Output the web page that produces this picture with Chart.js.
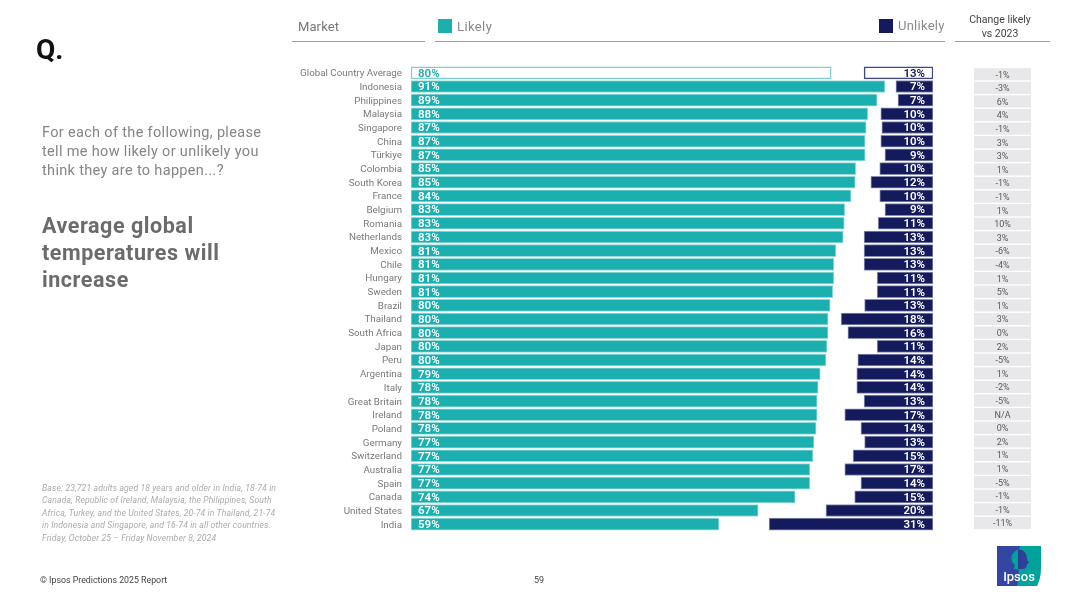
<!DOCTYPE html>
<html>
<head>
<meta charset="utf-8">
<title>Average global temperatures will increase</title>
<script src="https://cdn.jsdelivr.net/npm/chart.js@4"></script>
<style>
    html, body { margin: 0; padding: 0; background: #fff; }
    body { width: 1080px; height: 607px; position: relative; overflow: hidden; font-family: Roboto, sans-serif; }
    #barChart { position: absolute; left: 0; top: 0; }
    .txt { position: absolute; white-space: nowrap; }
    .line { position: absolute; height: 1px; background: #8ea3a7; top: 41px; }
    .swatch { position: absolute; width: 14px; height: 14px; top: 19px; }
</style>
</head>
<body>
<canvas id="barChart" width="1080" height="607"></canvas>

<div class="txt" style="left:36px;top:33px;font-size:28px;font-weight:700;color:#111;">Q.</div>
<div class="txt" style="left:42px;top:123px;font-size:14.5px;line-height:19px;letter-spacing:.33px;color:#858585;">For each of the following, please<br>tell me how likely or unlikely you<br>think they are to happen...?</div>
<div class="txt" style="left:42px;top:212px;font-size:21.5px;line-height:27px;letter-spacing:.55px;font-weight:700;color:#6b6b6b;">Average global<br>temperatures will<br>increase</div>
<div class="txt" style="left:42px;top:482px;font-size:8.6px;line-height:12.4px;letter-spacing:.13px;font-style:italic;color:#ababab;">Base: 23,721 adults aged 18 years and older in India, 18-74 in<br>Canada, Republic of Ireland, Malaysia, the Philippines, South<br>Africa, Turkey, and the United States, 20-74 in Thailand, 21-74<br>in Indonesia and Singapore, and 16-74 in all other countries.<br>Friday, October 25 – Friday November  8, 2024</div>
<div class="txt" style="left:40px;top:575px;font-size:8.8px;color:#444;">© Ipsos Predictions 2025 Report</div>
<div class="txt" style="left:534px;top:575px;font-size:9px;color:#444;">59</div>

<div class="txt" style="left:298px;top:19px;font-size:13px;letter-spacing:.1px;color:#777;">Market</div>
<div class="line" style="left:292px;width:133px;"></div>
<div class="swatch" style="left:438px;background:#1cafaf;"></div>
<div class="txt" style="left:457px;top:19px;font-size:13px;letter-spacing:.4px;color:#8a8a8a;">Likely</div>
<div class="line" style="left:435px;width:510px;"></div>
<div class="swatch" style="left:879px;background:#141b5c;"></div>
<div class="txt" style="left:898px;top:18px;font-size:13px;letter-spacing:.25px;color:#8a8a8a;">Unlikely</div>
<div class="txt" style="left:955px;width:90px;top:13px;font-size:10.5px;line-height:13.5px;text-align:center;color:#444;">Change likely<br>vs 2023</div>
<div class="line" style="left:955px;width:95px;"></div>

<svg style="position:absolute;left:997px;top:546px;" width="44" height="40" viewBox="0 0 44 40">
    <defs><clipPath id="leftHalf"><rect x="0" y="0" width="21" height="40"/></clipPath></defs>
    <path d="M0 0H44V22Q44 32 40 40H0Z" fill="#00a39b"/>
    <path d="M0 0H23Q19 10 21 20Q23 32 20 40H0Z" fill="#3446a4"/>
    <path d="M15 9Q19 2 25 4Q30 7 30 13L32 17L30 18Q30 23 26 23H17Q18 20 17 18Q13 15 15 9Z" fill="#2f3f99"/>
    <path clip-path="url(#leftHalf)" d="M15 9Q19 2 25 4Q30 7 30 13L32 17L30 18Q30 23 26 23H17Q18 20 17 18Q13 15 15 9Z" fill="#00a39b"/>
    <text x="22" y="35" text-anchor="middle" font-family="Roboto, sans-serif" font-size="13" font-weight="500" fill="#fff">Ipsos</text>
</svg>

<script>
'use strict';
const markets = ['Global Country Average', 'Indonesia', 'Philippines', 'Malaysia', 'Singapore', 'China', 'Türkiye', 'Colombia', 'South Korea', 'France', 'Belgium', 'Romania', 'Netherlands', 'Mexico', 'Chile', 'Hungary', 'Sweden', 'Brazil', 'Thailand', 'South Africa', 'Japan', 'Peru', 'Argentina', 'Italy', 'Great Britain', 'Ireland', 'Poland', 'Germany', 'Switzerland', 'Australia', 'Spain', 'Canada', 'United States', 'India'];
// bar lengths, printed labels are the rounded ones below
const likely = [80.5, 90.8, 89.3, 87.5, 87.2, 87.0, 87.0, 85.2, 85.1, 84.3, 83.1, 83.0, 82.8, 81.4, 81.0, 81.0, 80.8, 80.3, 79.9, 79.9, 79.7, 79.5, 78.4, 78.0, 77.8, 77.8, 77.6, 77.2, 77.0, 76.4, 76.4, 73.6, 66.5, 59.0];
const unlikely = [13.2, 7.1, 6.7, 10.0, 9.8, 10.0, 9.2, 10.2, 11.9, 10.2, 9.2, 10.5, 13.2, 13.2, 13.2, 10.7, 10.7, 13.1, 17.6, 16.3, 10.7, 14.4, 14.6, 14.6, 13.2, 16.9, 13.8, 13.1, 15.3, 16.9, 13.8, 15.0, 20.5, 31.4];
const likelyLabels = [80, 91, 89, 88, 87, 87, 87, 85, 85, 84, 83, 83, 83, 81, 81, 81, 81, 80, 80, 80, 80, 80, 79, 78, 78, 78, 78, 77, 77, 77, 77, 74, 67, 59];
const unlikelyLabels = [13, 7, 7, 10, 10, 10, 9, 10, 12, 10, 9, 11, 13, 13, 13, 11, 11, 13, 18, 16, 11, 14, 14, 14, 13, 17, 14, 13, 15, 17, 14, 15, 20, 31];
const changeLabels = ['-1%', '-3%', '6%', '4%', '-1%', '3%', '3%', '1%', '-1%', '-1%', '1%', '10%', '3%', '-6%', '-4%', '1%', '5%', '1%', '3%', '0%', '2%', '-5%', '1%', '-2%', '-5%', 'N/A', '0%', '2%', '1%', '1%', '-5%', '-1%', '-1%', '-11%'];

const teal = '#1cafaf';
const navy = '#141b5c';

// the global row is outlined, all the others are filled
function fillFor(color) {
    return markets.map((m, i) => i === 0 ? '#ffffff' : color);
}

// percent labels inside the bars and the grey change column
const rowLabels = {
    id: 'rowLabels',
    afterDatasetsDraw(chart) {
        const ctx = chart.ctx;
        const y = chart.scales.y;
        const area = chart.chartArea;
        ctx.save();
        markets.forEach((m, i) => {
            const py = y.getPixelForValue(i);
            ctx.textBaseline = 'middle';
            ctx.font = '600 11.5px Roboto, sans-serif';
            ctx.textAlign = 'left';
            ctx.fillStyle = i === 0 ? teal : '#ffffff';
            ctx.fillText(likelyLabels[i] + '%', area.left + 7, py + 1);
            ctx.textAlign = 'right';
            ctx.fillStyle = i === 0 ? navy : '#ffffff';
            ctx.fillText(unlikelyLabels[i] + '%', area.right - 8, py + 1);

            // this column sits a little tighter than the bars in the original
            const cy = py + 1.3 - 2.6 * i / (markets.length - 1);
            ctx.fillStyle = '#e8e8ea';
            ctx.fillRect(974, cy - 6, 57, 12.2);
            ctx.font = '9px Roboto, sans-serif';
            ctx.textAlign = 'center';
            ctx.fillStyle = '#5a5a5a';
            ctx.fillText(changeLabels[i], 1002.5, cy + 1.3);
        });
        ctx.restore();
    }
};

function renderChart() {
    const ctx = document.getElementById('barChart').getContext('2d');
    new Chart(ctx, {
        type: 'bar',
        data: {
            labels: markets,
            datasets: [{
                label: 'Likely',
                data: likely,
                xAxisID: 'x',
                backgroundColor: fillFor(teal),
                borderColor: markets.map((m, i) => i === 0 ? '#7fd0cd' : '#9adbd8'),
                borderWidth: markets.map((m, i) => i === 0 ? 1.5 : 1),
                borderSkipped: false
            }, {
                label: 'Unlikely',
                data: unlikely,
                xAxisID: 'x2',
                backgroundColor: fillFor(navy),
                borderColor: markets.map((m, i) => i === 0 ? '#3f4785' : '#8a8eb0'),
                borderWidth: markets.map((m, i) => i === 0 ? 1.5 : 1),
                borderSkipped: false
            }]
        },
        options: {
            indexAxis: 'y',
            responsive: false,
            animation: false,
            layout: { padding: { left: 0, right: 147, top: 66, bottom: 76 } },
            datasets: { bar: { grouped: false, barThickness: 12 } },
            plugins: { legend: { display: false }, tooltip: { enabled: false } },
            scales: {
                x: { min: 0, max: 100, display: false },
                x2: { min: 0, max: 100, reverse: true, display: false },
                y: {
                    afterFit(scale) { scale.width = 411; },
                    grid: { display: false },
                    border: { display: false },
                    ticks: {
                        autoSkip: false,
                        padding: 1,
                        labelOffset: 1,
                        color: '#7a7a7a',
                        font: { family: 'Roboto, sans-serif', size: 9.8 }
                    }
                }
            }
        },
        plugins: [rowLabels]
    });
}

renderChart();
</script>
</body>
</html>
